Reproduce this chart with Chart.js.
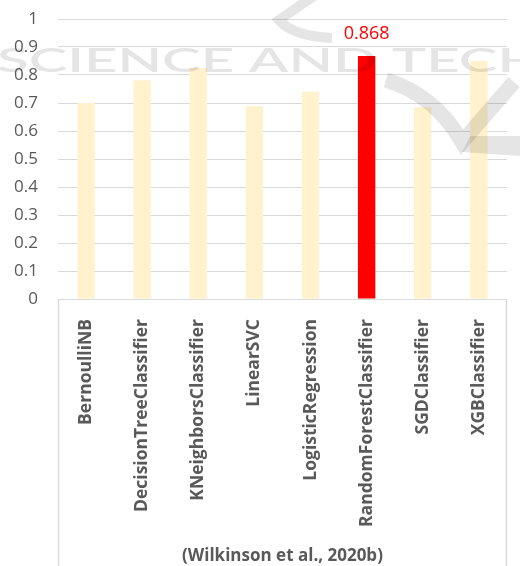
<!DOCTYPE html>
<html>
<head>
<meta charset="utf-8">
<script src="https://cdn.jsdelivr.net/npm/chart.js@4.4.1/dist/chart.umd.min.js"></script>
<style>
  html, body { margin: 0; padding: 0; background: #ffffff; }
  #wrap { width: 520px; height: 566px; position: relative; }
</style>
</head>
<body>
<div id="wrap"><canvas id="c"></canvas></div>
<script>
// Accuracy of each classifier
const classifiers = [
  'BernoulliNB', 'DecisionTreeClassifier', 'KNeighborsClassifier', 'LinearSVC',
  'LogisticRegression', 'RandomForestClassifier', 'SGDClassifier', 'XGBClassifier'
];
const accuracy = [0.700, 0.781, 0.825, 0.688, 0.740, 0.868, 0.685, 0.850];
const yTickValues = [0, 0.1, 0.2, 0.3, 0.4, 0.5, 0.6, 0.7, 0.8, 0.9, 1];
const sourceNote = '(Wilkinson et al., 2020b)';
const watermarkText = 'SCIENCE AND TECH';

const bestIndex = accuracy.indexOf(Math.max(...accuracy));
const barColors = accuracy.map((_, i) => i === bestIndex ? '#ff0000' : '#fff2cc');

const textGray = '#595959';
const lineGray = '#d9d9d9';
const fontFamily = "'Open Sans', 'Liberation Sans', sans-serif";

// Light frame lines at both ends of the category axis
const axisFrame = {
  id: 'axisFrame',
  afterDraw(chart) {
    const { ctx, chartArea } = chart;
    ctx.save();
    ctx.strokeStyle = lineGray;
    ctx.lineWidth = 1.5;
    ctx.beginPath();
    ctx.moveTo(chartArea.left + 0.5, chartArea.bottom);
    ctx.lineTo(chartArea.left + 0.5, chart.height);
    ctx.moveTo(chartArea.right - 0.5, chartArea.bottom);
    ctx.lineTo(chartArea.right - 0.5, chart.height);
    ctx.stroke();
    ctx.restore();
  }
};

// Value label over the best classifier's bar
const bestLabel = {
  id: 'bestLabel',
  afterDatasetsDraw(chart) {
    const { ctx } = chart;
    const bar = chart.getDatasetMeta(0).data[bestIndex];
    ctx.save();
    ctx.fillStyle = '#ff0000';
    ctx.font = `18px ${fontFamily}`;
    ctx.textAlign = 'center';
    ctx.textBaseline = 'alphabetic';
    ctx.fillText(accuracy[bestIndex].toFixed(3), bar.x, bar.y - 17);
    ctx.restore();
  }
};

// Faint publisher watermark laid over the plot
const watermark = {
  id: 'watermark',
  afterDraw(chart) {
    const { ctx } = chart;
    ctx.save();
    ctx.fillStyle = 'rgba(0,0,0,0.10)';
    ctx.strokeStyle = 'rgba(0,0,0,0.10)';
    ctx.font = `600 33px Lato, ${fontFamily}`;
    ctx.textBaseline = 'alphabetic';
    const w = ctx.measureText(watermarkText).width;
    ctx.save();
    ctx.translate(-3, 72);
    ctx.scale(545 / w, 1);
    ctx.fillText(watermarkText, 0, 0);
    ctx.restore();

    ctx.lineCap = 'butt';
    ctx.lineJoin = 'miter';
    ctx.beginPath();
    ctx.moveTo(314, -4);
    ctx.lineTo(279, 20);
    ctx.quadraticCurveTo(292, 36, 332, 38);
    ctx.lineWidth = 10;
    ctx.stroke();

    ctx.beginPath();
    ctx.moveTo(386, 80);
    ctx.quadraticCurveTo(435, 95, 462, 142);
    ctx.lineTo(514, 82);
    ctx.lineWidth = 15;
    ctx.stroke();

    ctx.beginPath();
    ctx.moveTo(470, 136);
    ctx.lineTo(520, 136);
    ctx.lineTo(520, 156);
    ctx.lineTo(462, 152);
    ctx.closePath();
    ctx.fill();
    ctx.restore();
  }
};

new Chart(document.getElementById('c'), {
  type: 'bar',
  data: {
    labels: classifiers,
    datasets: [{
      data: accuracy,
      backgroundColor: barColors,
      borderWidth: 0,
      barPercentage: 0.62,
      categoryPercentage: 0.5
    }]
  },
  options: {
    responsive: true,
    maintainAspectRatio: false,
    animation: false,
    layout: { padding: { top: 19, right: 2, left: 0, bottom: 0 } },
    plugins: {
      legend: { display: false },
      tooltip: { enabled: false }
    },
    scales: {
      x: {
        grid: { display: false, drawTicks: false },
        border: { display: true, color: lineGray, width: 1 },
        ticks: {
          color: textGray,
          font: { family: fontFamily, size: 17.5, weight: 'bold' },
          minRotation: 90,
          maxRotation: 90,
          autoSkip: false,
          padding: 20
        },
        title: {
          display: true,
          text: sourceNote,
          color: textGray,
          font: { family: fontFamily, size: 17, weight: 'bold', lineHeight: 1 },
          padding: { top: 0, bottom: 1 }
        },
        afterFit(scale) { scale.height = 267; }
      },
      y: {
        min: 0,
        max: 1,
        afterBuildTicks(scale) { scale.ticks = yTickValues.map(v => ({ value: v })); },
        grid: { color: lineGray, lineWidth: 1, drawTicks: false },
        border: { display: false },
        ticks: {
          color: textGray,
          font: { family: fontFamily, size: 17 },
          padding: 20,
          callback: v => String(Number(v.toFixed(1)))
        },
        afterFit(scale) {
          scale.width = 58;
          scale.paddingTop = 10;
          scale.paddingBottom = 10;
        }
      }
    }
  },
  plugins: [axisFrame, bestLabel, watermark]
});
</script>
</body>
</html>
